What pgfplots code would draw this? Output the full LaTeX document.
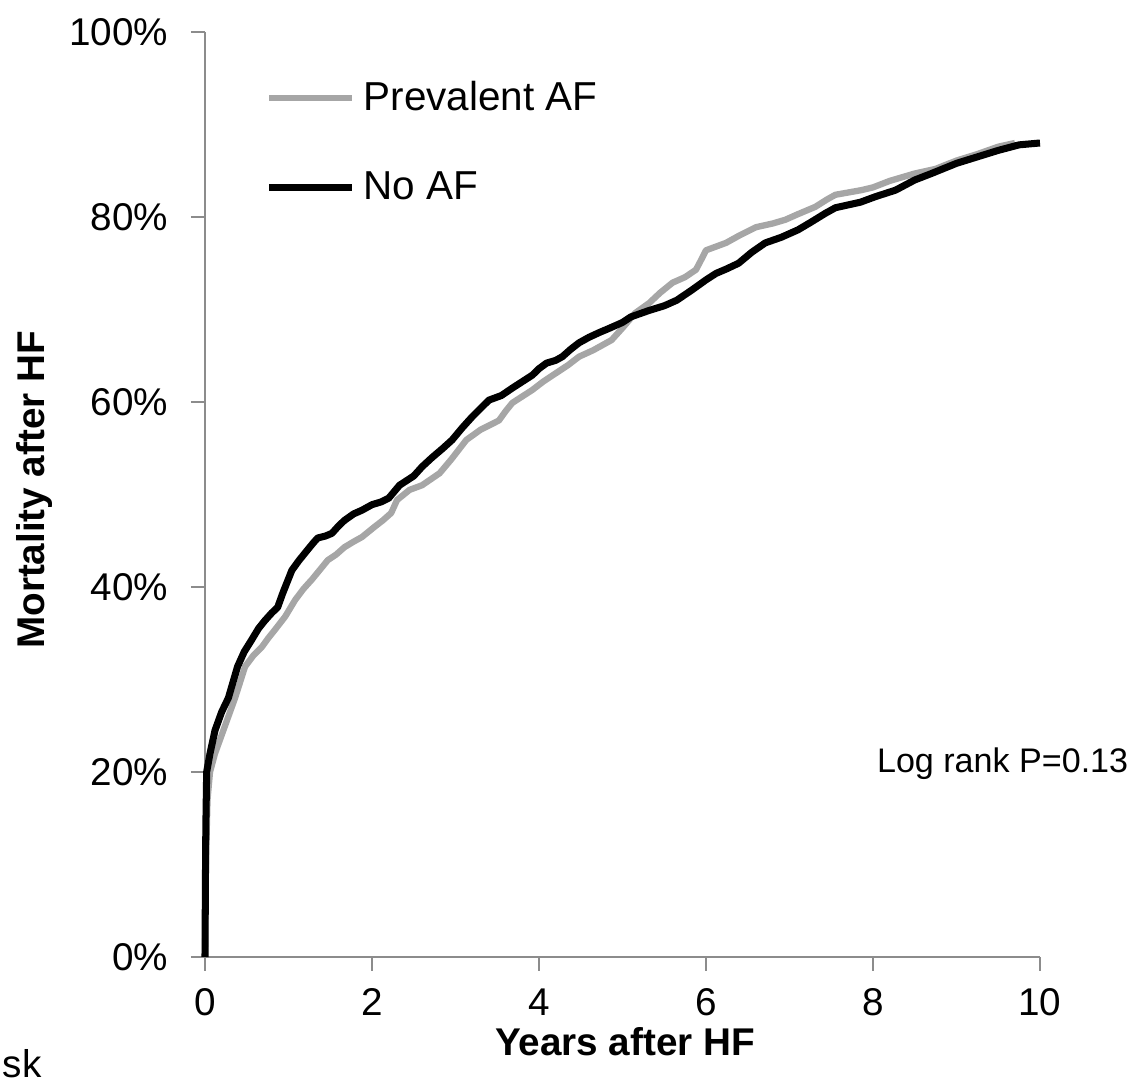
\documentclass[border=0pt]{standalone}
\usepackage{pgfplots}
\pgfplotsset{compat=1.18}
\usepackage{fontspec}
\setmainfont{Liberation Sans}
\definecolor{axgray}{HTML}{8C8C8C}
\definecolor{afgray}{HTML}{A6A6A6}

\begin{document}
\begin{tikzpicture}
\begin{axis}[
  name=ax, scale only axis, width=8.35cm, height=9.25cm,
  xmin=0, xmax=10, ymin=0, ymax=100,
  axis lines=left, axis line style={-, draw=axgray, line width=0.6pt},
  tick style={draw=axgray, line width=0.6pt}, tick align=outside,
  major tick length=0.14cm,
  xtick={0,2,...,10}, ytick={0,20,...,100},
  yticklabel={\pgfmathprintnumber{\tick}\%},
  /pgf/number format/assume math mode=true,
  tick label style={font=\fontsize{11}{13}\selectfont},
  xticklabel style={anchor=north, inner sep=0pt, yshift=-0.17cm},
  yticklabel style={anchor=east, inner sep=0pt, xshift=-0.22cm},
  xlabel={Years after HF}, ylabel={Mortality after HF},
  label style={font=\fontsize{11}{13}\selectfont\bfseries},
  xlabel style={at={(axis description cs:0.503,-0.092)}, anchor=center},
  ylabel style={at={(axis description cs:-0.2036,0.505)}, anchor=center},
  clip=false,
  legend cell align=left,
  legend image code/.code={\draw[#1] (0cm,0cm) -- (0.83cm,0cm);},
  legend style={at={(axis description cs:0.0719,0.948)}, anchor=north west,
    draw=none, fill=none, inner sep=0pt, row sep=0.56cm, column sep=0.08cm,
    font=\fontsize{11.5}{13}\selectfont, nodes={inner sep=0pt}},
]
\addplot[afgray, line width=1.8pt, line join=round] coordinates {
(0,0) (0.01,10) (0.03,17) (0.06,20) (0.12,22) (0.2,24) (0.28,26) (0.36,28)
(0.48,31.4) (0.58,32.6) (0.68,33.5) (0.76,34.5) (0.84,35.4) (0.96,36.8)
(1.08,38.6) (1.18,39.8) (1.28,40.8) (1.38,41.9) (1.47,42.9) (1.57,43.5)
(1.67,44.3) (1.78,44.9) (1.88,45.4) (2.03,46.5) (2.13,47.2) (2.23,48)
(2.3,49.4) (2.45,50.5) (2.6,51) (2.81,52.3) (2.95,53.8) (3.13,55.9)
(3.3,57) (3.52,58) (3.6,59) (3.68,59.9) (3.8,60.6) (3.92,61.3) (4.05,62.2)
(4.2,63.1) (4.35,64) (4.48,64.9) (4.65,65.6) (4.87,66.7) (5.0,68)
(5.15,69.6) (5.32,70.7) (5.45,71.8) (5.6,72.9) (5.75,73.5) (5.88,74.3)
(5.95,75.5) (6.0,76.4) (6.24,77.2) (6.4,78.0) (6.6,78.9) (6.8,79.3)
(6.95,79.7) (7.1,80.3) (7.31,81.1) (7.45,81.9) (7.55,82.4) (7.86,82.9)
(8.0,83.2) (8.2,83.9) (8.5,84.7) (8.75,85.2) (9.0,86.1) (9.25,86.8)
(9.5,87.6) (9.7,88.0)
};
\addlegendentry{Prevalent AF}
\addplot[black, line width=2pt, line join=round] coordinates {
(0,0) (0.005,8) (0.01,14) (0.02,20) (0.06,22) (0.12,24.5) (0.2,26.5)
(0.28,28) (0.39,31.4) (0.47,33) (0.56,34.3) (0.64,35.5) (0.72,36.4)
(0.8,37.2) (0.87,37.8) (0.93,39.3) (1.04,41.8) (1.12,42.8) (1.2,43.7)
(1.3,44.8) (1.35,45.3) (1.44,45.5) (1.52,45.8) (1.6,46.6) (1.67,47.2)
(1.78,47.9) (1.88,48.3) (2.0,48.9) (2.11,49.2) (2.2,49.6) (2.33,51.0)
(2.5,52.0) (2.6,53) (2.72,54) (2.85,55) (2.96,55.9) (3.08,57.2) (3.2,58.4)
(3.3,59.3) (3.4,60.2) (3.55,60.7) (3.68,61.5) (3.8,62.2) (3.92,62.9)
(4.0,63.6) (4.09,64.2) (4.2,64.5) (4.28,64.9) (4.38,65.7) (4.48,66.4)
(4.6,67) (4.72,67.5) (4.85,68) (5.0,68.6) (5.1,69.2) (5.32,69.9)
(5.5,70.4) (5.65,71) (5.83,72.1) (6.0,73.2) (6.12,73.9) (6.25,74.4)
(6.39,75) (6.55,76.2) (6.71,77.2) (6.9,77.8) (7.1,78.6) (7.25,79.4)
(7.43,80.4) (7.55,81) (7.7,81.3) (7.85,81.6) (8.03,82.2) (8.27,82.9)
(8.5,84.0) (8.7,84.7) (9.0,85.8) (9.25,86.5) (9.5,87.2) (9.75,87.8) (10,88.0)
};
\addlegendentry{No AF}
\node[anchor=west, font=\fontsize{9.7}{12}\selectfont] at (axis description cs:0.790,0.2086) {Log rank P=0.13};
\coordinate (sw) at (rel axis cs:0,0);
\coordinate (ne) at (rel axis cs:1,1);
\end{axis}
\node[anchor=base west, inner sep=0pt, font=\fontsize{11}{13}\selectfont] at ([shift={(-2.03cm,-1.21cm)}]sw) {sk};
\path ([shift={(-2.05cm,-1.26cm)}]sw) rectangle ([shift={(1.06cm,0.32cm)}]ne);
\end{tikzpicture}
\end{document}
